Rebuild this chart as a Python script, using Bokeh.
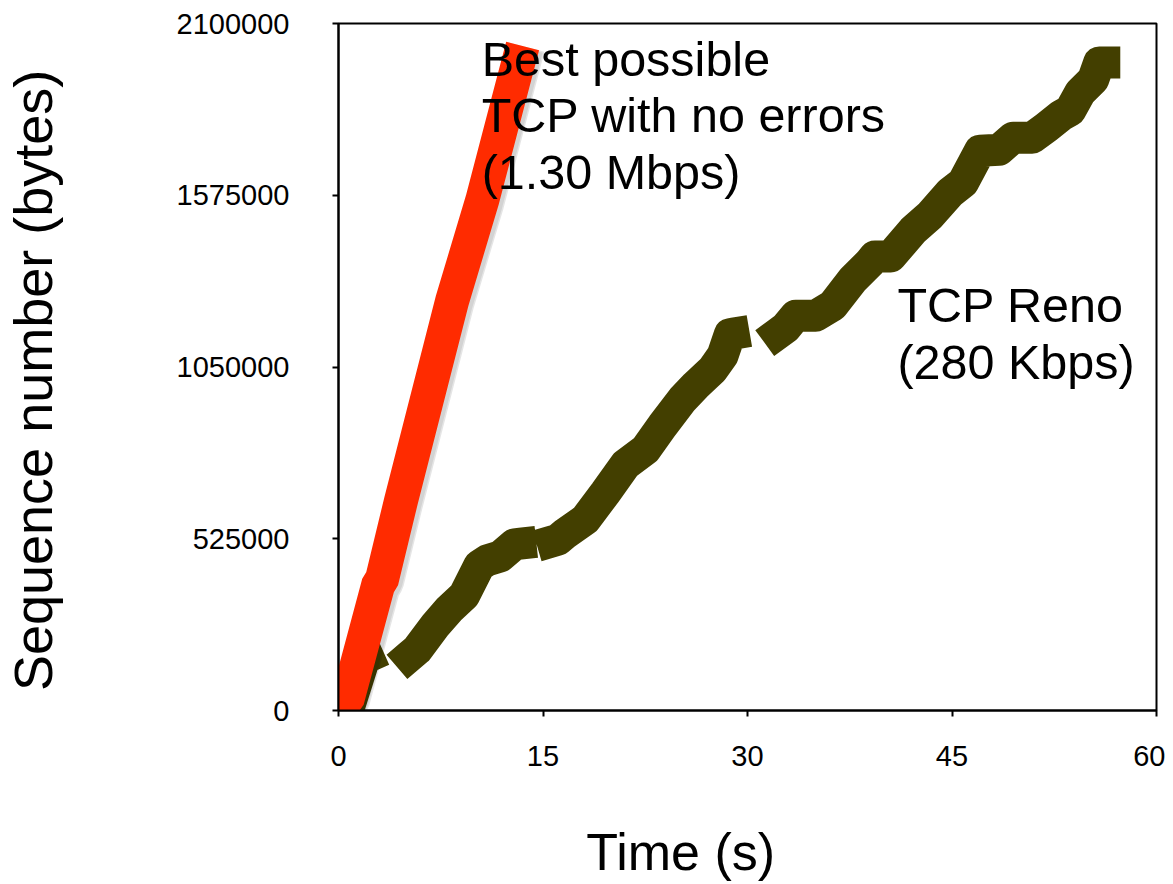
import numpy as np
from bokeh.plotting import figure
from bokeh.models import Range1d, FixedTicker, Label, LinearAxis
from bokeh.embed import file_html
from bokeh.resources import INLINE

# ---- data ----
x_ticks = [0, 15, 30, 45, 60]
y_ticks = [0, 525000, 1050000, 1575000, 2100000]
y_tick_labels = ["0", "525000", "1050000", "1575000", "2100000"]

# Best possible TCP (no errors)
best_t = [0, 0.70, 2.90, 3.20, 4.59, 8.34, 10.54, 13.19]
best_seq = [0, 40000, 382000, 403000, 642000, 1253000, 1559000, 1981000]

# TCP Reno (segments separated by pauses / timeouts)
reno_t = [0, 0.8, 1.9, 2.17, np.nan,
          5.18, 5.77, 7.09, 8.12, 9.22, 10.32, 10.91, 11.87, 12.90, 13.34, np.nan,
          15.69, 16.10, 16.60, 18.11, 19.58, 21.05, 22.52, 23.77, 25.23, 26.19, 27.44, 28.17, 28.70, 28.98, np.nan,
          32.21, 32.80, 33.53, 35.00, 36.25, 37.72, 38.97, 39.34, 40.51, 42.13, 43.38, 44.86,
          45.81, 47.05, 48.45, 49.48, 50.88, 51.91, 53.01, 53.67, 54.40, 55.36, 55.80, 56.17]
reno_seq = [0, 15000, 160000, 165000, np.nan,
            165000, 186000, 260000, 309000, 352000, 443000, 459000, 471000, 508000, 510000, np.nan,
            517000, 522000, 540000, 584000, 666000, 752000, 798000, 871000, 951000, 993000, 1042000, 1085000, 1150000, 1152000, np.nan,
            1152000, 1170000, 1207000, 1207000, 1238000, 1317000, 1369000, 1388000, 1388000, 1467000, 1513000, 1583000,
            1614000, 1711000, 1714000, 1751000, 1751000, 1782000, 1819000, 1834000, 1889000, 1929000, 1981000, 1981000]

best_lines = ["Best possible", "TCP with no errors", "(1.30 Mbps)"]
reno_lines = ["TCP Reno", "(280 Kbps)"]
x_title = "Time (s)"
y_title = "Sequence number (bytes)"
x_title_at = 25.1       # where the x title is centred (seconds)
y_title_at = 1009000    # where the y title is centred (bytes)

FONT = "Liberation Sans"
RED = "#FF2B00"
OLIVE = "#433F00"

p = figure(width=1165, height=884, output_backend="svg", toolbar_location=None,
           x_range=Range1d(0, 60), y_range=Range1d(0, 2100000),
           min_border_left=338, min_border_right=9, min_border_top=23, min_border_bottom=174)

p.xgrid.visible = False
p.ygrid.visible = False
p.outline_line_color = "black"
p.outline_line_width = 2
p.outline_line_alpha = 1.0
p.background_fill_color = "white"
p.border_fill_color = "white"

# TCP Reno
p.line(reno_t, reno_seq, line_color=OLIVE, line_width=32, line_cap="square", line_join="round")

# shadow of best-possible line (shifted copy of the same data)
sh_t = np.array(best_t) + 0.22
sh_s = np.array(best_seq) - 9000
p.line(sh_t, sh_s, line_color="black", line_alpha=0.10, line_width=38, line_cap="square")
p.line(sh_t, sh_s, line_color="black", line_alpha=0.08, line_width=35, line_cap="square")
# Best possible
p.line(best_t, best_seq, line_color=RED, line_width=34, line_cap="square", line_join="miter")

# axes
for ax in (p.xaxis[0], p.yaxis[0]):
    ax.axis_line_width = 2
    ax.axis_line_color = "black"
    ax.major_tick_line_width = 2
    ax.major_tick_line_color = "black"
    ax.major_tick_out = 6
    ax.major_tick_in = 0
    ax.minor_tick_out = 0
    ax.minor_tick_in = 0
    ax.major_label_text_font = FONT
    ax.major_label_text_font_size = "29px"
    ax.major_label_text_color = "black"

p.xaxis[0].ticker = FixedTicker(ticks=x_ticks)
p.yaxis[0].ticker = FixedTicker(ticks=y_ticks)
p.yaxis[0].major_label_overrides = {t: s for t, s in zip(y_ticks, y_tick_labels)}
p.xaxis[0].major_label_standoff = 29
p.yaxis[0].major_label_standoff = 43

# axis titles, drawn as the single label of a bare extra axis so they can sit off-centre
xt_axis = LinearAxis(ticker=FixedTicker(ticks=[x_title_at]),
                     major_label_overrides={x_title_at: x_title},
                     axis_line_color=None, major_tick_line_color=None, minor_tick_line_color=None,
                     major_tick_out=0, major_tick_in=0, minor_tick_out=0, minor_tick_in=0,
                     major_label_standoff=54, major_label_text_font=FONT,
                     major_label_text_font_size="52px", major_label_text_color="black")
p.add_layout(xt_axis, "below")
yt_axis = LinearAxis(ticker=FixedTicker(ticks=[y_title_at]),
                     major_label_overrides={y_title_at: y_title},
                     major_label_orientation="vertical",
                     axis_line_color=None, major_tick_line_color=None, minor_tick_line_color=None,
                     major_tick_out=0, major_tick_in=0, minor_tick_out=0, minor_tick_in=0,
                     major_label_standoff=110, major_label_text_font=FONT,
                     major_label_text_font_size="54px", major_label_text_color="black")
p.add_layout(yt_axis, "left")

# annotations
for i, s in enumerate(best_lines):
    p.add_layout(Label(x=10.50, y=1993000 - i * 174000, text=s, text_font=FONT,
                       text_font_size="48.5px", text_color="black", text_baseline="alphabetic"))
for i, s in enumerate(reno_lines):
    p.add_layout(Label(x=41.0, y=1238000 - i * 174000, text=s, text_font=FONT,
                       text_font_size="48.5px", text_color="black", text_baseline="alphabetic"))

open("out.html", "w").write(file_html(p, INLINE))
